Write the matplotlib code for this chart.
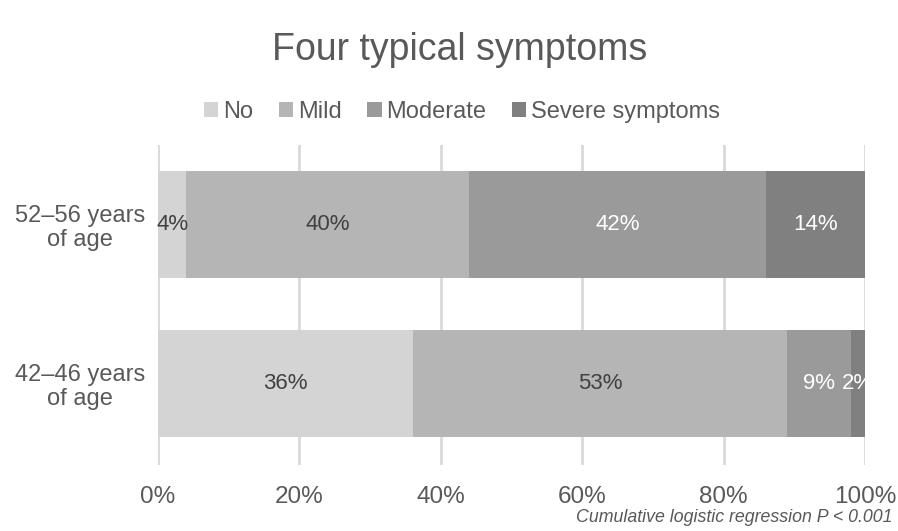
import numpy as np
import matplotlib.pyplot as plt

plt.rcParams['font.family'] = ['Liberation Sans', 'DejaVu Sans']

groups = ["42\u201346 years\nof age", "52\u201356 years\nof age"]
levels = ["No", "Mild", "Moderate", "Severe symptoms"]
no = [36, 4]
mild = [53, 40]
moderate = [9, 42]
severe = [2, 14]
ticks = [0, 20, 40, 60, 80, 100]

colors = ["#d4d4d4", "#b5b5b5", "#9a9a9a", "#808080"]
label_colors = ["#404040", "#404040", "white", "white"]
txt = "#595959"

fig = plt.figure(figsize=(8.98, 5.31), dpi=100)
ax = fig.add_axes([158/898, 66/531, 707/898, 320/531])

y = np.arange(len(groups))
left = np.zeros(len(groups))
for vals, name, c, lc in zip([no, mild, moderate, severe], levels, colors, label_colors):
    vals = np.array(vals, dtype=float)
    bars = ax.barh(y, vals, left=left, height=0.67, color=c, label=name, zorder=3)
    for b, v in zip(bars, vals):
        cx = b.get_x() + b.get_width() / 2
        ax.text(cx, b.get_y() + b.get_height() / 2, f"{int(v)}%", ha="center", va="center",
                color=lc, fontsize=16, zorder=4)
    left += vals

ax.set_xlim(0, 100)
ax.set_ylim(-0.51, 1.5)
ax.set_xticks(ticks)
ax.set_xticklabels([f"{t}%" for t in ticks], fontsize=17.5, color=txt)
ax.set_yticks(y)
ax.set_yticklabels(groups, fontsize=17, color=txt, ha="center", linespacing=1.1)
ax.tick_params(axis="y", length=0, pad=56)
ax.tick_params(axis="x", length=0, pad=15)
ax.grid(axis="x", color="#d9d9d9", linewidth=2, zorder=0)
for s in ax.spines.values():
    s.set_visible(False)

fig.text(460/898, 1 - 50/531, "Four typical symptoms", ha="center", va="center",
         fontsize=27, color=txt)
fig.legend(loc="center", bbox_to_anchor=(462/898, 1 - 112/531), ncol=4, frameon=False,
           fontsize=17, handlelength=0.6, handleheight=0.6, handletextpad=0.2,
           columnspacing=1.1, labelcolor=txt)
fig.text(893/898, 1 - 518/531, "Cumulative logistic regression P < 0.001", ha="right",
         va="center", fontsize=12.8, style="italic", color=txt)

fig.savefig("out.png", dpi=100)
